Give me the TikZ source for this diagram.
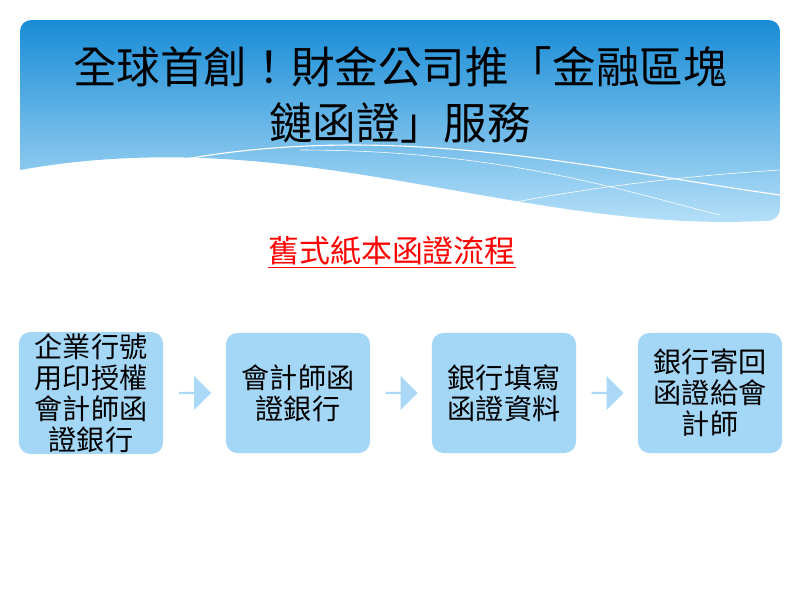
\documentclass[tikz,border=0pt]{standalone}
\usepackage{fontspec}
\newfontfamily\cjk{Noto Sans CJK TC}
\usetikzlibrary{positioning,shapes.arrows,calc}
\definecolor{boxblue}{RGB}{164,214,246}
\definecolor{arrowblue}{RGB}{170,216,246}
\tikzset{
  stepbox/.style={draw=none, fill=boxblue, rounded corners=8pt,
    minimum width=3.6cm, minimum height=3cm, align=center,
    font=\cjk\fontsize{20}{22}\selectfont, inner sep=1pt},
  flowarrow/.style={single arrow, fill=arrowblue, draw=none,
    minimum width=0.85cm, single arrow head extend=0.1cm, minimum height=0.8cm, inner sep=0pt}
}
\begin{document}
\begin{tikzpicture}[x=0.025cm,y=-0.025cm]
  \useasboundingbox (0,0) rectangle (800,600);
  \definecolor{topblue}{RGB}{24,140,214}
  \definecolor{lowblue}{RGB}{190,228,250}

  % Cabecera
  \shade[top color=topblue, bottom color=lowblue, rounded corners=8pt]
    (20,170) -- (20,20) -- (780,20) -- (780,220) [sharp corners]
    .. controls (520,235) and (300,120) .. (20,170);
  \draw[white, thick] (180,160) .. controls (400,120) and (600,170) .. (780,195);
  \draw[white] (300,150) .. controls (500,150) and (620,190) .. (720,215);
  \draw[white] (500,205) .. controls (600,185) and (700,175) .. (780,170);

  % Titulo
  \node[font=\cjk\fontsize{31}{40}\selectfont, align=center] (title) at (400,95)
    {全球首創！財金公司推「金融區塊\\鏈函證」服務};

  % Subtitulo
  \node[font=\cjk\fontsize{22}{24}\selectfont, text=red] (sub) at (392,252)
    {\underline{舊式紙本函證流程}};

  % Pasos
  \node[stepbox] (s1) at (91,393) {企業行號\\用印授權\\會計師函\\證銀行};
  \node[stepbox] (s2) at (298,393) {會計師函\\證銀行};
  \node[stepbox] (s3) at (504,393) {銀行填寫\\函證資料};
  \node[stepbox] (s4) at (710,393) {銀行寄回\\函證給會\\計師};

  % Flechas
  \foreach \a/\b in {s1/s2, s2/s3, s3/s4}
    \node[flowarrow] at ($(\a.east)!0.5!(\b.west)$) {};
\end{tikzpicture}
\end{document}
